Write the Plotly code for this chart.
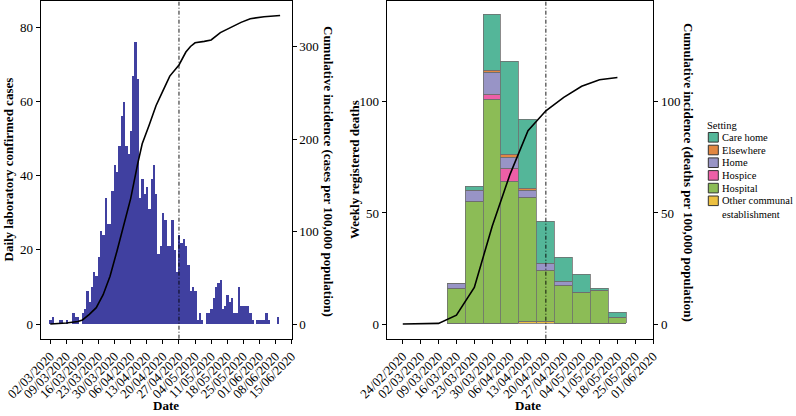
import plotly.graph_objects as go
import pandas as pd

# ---------------- data ----------------
# Left panel: daily laboratory confirmed cases, one value per day from daily_start
daily_start = "2020-03-02"
daily_cases = [1, 2, 0, 0, 1, 1, 0, 1, 0, 0, 3, 2, 2, 0, 3, 4,
               9, 6, 10, 14, 13, 18, 25, 24, 34, 27, 27,
               36, 43, 41, 48, 56, 60, 48, 46, 52, 67, 76,
               66, 34, 39, 35, 37, 31, 39, 43, 35, 19, 21, 30, 28, 21, 21, 28, 20, 14, 24,
               22, 23, 21, 16, 9, 10, 9, 1, 3, 1, 0,
               3, 3, 4, 7, 10, 11, 12,
               4, 5, 8, 6, 7, 3, 3, 10, 5, 5, 5, 5, 3,
               1, 0, 1, 1, 1, 1, 3, 1, 0, 0, 0, 2]

# Left panel: cumulative incidence (cases per 100,000)
cum_case_dates = ["2020-03-02", "2020-03-09", "2020-03-14", "2020-03-16", "2020-03-19",
                  "2020-03-22", "2020-03-25", "2020-03-28", "2020-03-31", "2020-04-03",
                  "2020-04-06", "2020-04-09", "2020-04-11", "2020-04-14", "2020-04-17",
                  "2020-04-20", "2020-04-23", "2020-04-27", "2020-04-30", "2020-05-02",
                  "2020-05-04", "2020-05-08", "2020-05-11", "2020-05-15", "2020-05-19",
                  "2020-05-24", "2020-05-28", "2020-06-03", "2020-06-10"]
cum_case_values = [0.3, 1.4, 3, 4.7, 10.8,
                   18, 32, 52, 79, 106,
                   136, 173, 195, 215, 236,
                   252, 268, 280, 294, 300,
                   304, 305.5, 307, 315, 320,
                   326, 330, 332, 333.5]

left_tick_labels = ["02/03/2020", "09/03/2020", "16/03/2020", "23/03/2020", "30/03/2020",
                    "06/04/2020", "13/04/2020", "20/04/2020", "27/04/2020", "04/05/2020",
                    "11/05/2020", "18/05/2020", "25/05/2020", "01/06/2020", "08/06/2020",
                    "15/06/2020"]
left_marker_date = "2020-04-27"

# Right panel: weekly registered deaths by setting
weeks = ["2020-03-16", "2020-03-23", "2020-03-30", "2020-04-06", "2020-04-13",
         "2020-04-20", "2020-04-27", "2020-05-04", "2020-05-11", "2020-05-18"]
deaths_other_communal = [0, 0, 0, 0, 1, 1, 0, 0, 0, 0]
deaths_hospital = [16, 55, 101, 64, 56, 23, 17, 14, 15, 3]
deaths_hospice = [0, 0, 2, 6, 0, 0, 0, 0, 0, 0]
deaths_home = [2, 5, 10, 5, 3, 3, 2, 0, 0, 0]
deaths_elsewhere = [0, 0, 1, 1, 1, 0, 0, 0, 0, 0]
deaths_care_home = [0, 2, 25, 42, 31, 19, 11, 8, 1, 2]

# Right panel: cumulative incidence (deaths per 100,000)
cum_death_dates = ["2020-02-24", "2020-03-02", "2020-03-09", "2020-03-16", "2020-03-23",
                   "2020-03-30", "2020-04-06", "2020-04-13", "2020-04-20", "2020-04-27",
                   "2020-05-04", "2020-05-11", "2020-05-18"]
cum_death_values = [0, 0, 0.3, 4, 16.5, 44, 67.5, 87, 96, 102, 107, 110, 111]

right_tick_labels = ["24/02/2020", "02/03/2020", "09/03/2020", "16/03/2020", "23/03/2020",
                     "30/03/2020", "06/04/2020", "13/04/2020", "20/04/2020", "27/04/2020",
                     "04/05/2020", "11/05/2020", "18/05/2020", "25/05/2020", "01/06/2020"]
right_marker_date = "2020-04-20"

legend_labels = ["Care home", "Elsewhere", "Home", "Hospice", "Hospital",
                 "Other communal<br>establishment"]

# ---------------- styles ----------------
FONT = "Liberation Serif"
W, H = 796, 416
case_color = "#4040A0"
colors = {
    "Care home": "#54B699",
    "Elsewhere": "#E28741",
    "Home": "#9894C6",
    "Hospice": "#ED5FA7",
    "Hospital": "#8CBC56",
    "Other communal<br>establishment": "#ECC041",
}
bar_edge = "#6E6E6E"

def px_x(p):
    return p / W

def px_y(p):
    return 1 - p / H

y_dom = [px_y(338.7), px_y(0.8)]
left_dom = [px_x(40.7), px_x(291.7)]
right_dom = [px_x(386.7), px_x(653.3)]

fig = go.Figure()

# left panel
day_dates = pd.date_range(daily_start, periods=len(daily_cases), freq="D")
fig.add_trace(go.Bar(x=day_dates, y=daily_cases, width=86400000,
                     marker=dict(color=case_color, line=dict(width=0)),
                     xaxis="x", yaxis="y", showlegend=False))
fig.add_trace(go.Scatter(x=pd.to_datetime(cum_case_dates), y=cum_case_values,
                         mode="lines", line=dict(color="black", width=1.6),
                         xaxis="x", yaxis="y2", showlegend=False))

# right panel stacked bars (bottom to top)
week_dates = pd.to_datetime(weeks)
stack = [
    ("Other communal<br>establishment", deaths_other_communal),
    ("Hospital", deaths_hospital),
    ("Hospice", deaths_hospice),
    ("Home", deaths_home),
    ("Elsewhere", deaths_elsewhere),
    ("Care home", deaths_care_home),
]
for name, vals in stack:
    fig.add_trace(go.Bar(x=week_dates, y=vals, width=7 * 86400000, name=name,
                         marker=dict(color=colors[name], line=dict(color=bar_edge, width=0.8)),
                         xaxis="x2", yaxis="y3", showlegend=False))
fig.add_trace(go.Scatter(x=pd.to_datetime(cum_death_dates), y=cum_death_values,
                         mode="lines", line=dict(color="black", width=1.6),
                         xaxis="x2", yaxis="y4", showlegend=False))

tickfont = dict(family=FONT, size=13, color="black")
common_axis = dict(showgrid=False, zeroline=False, ticks="outside", ticklen=4,
                   tickwidth=1, tickcolor="black", tickfont=tickfont, automargin=False)

left_ticks = pd.to_datetime(left_tick_labels, format="%d/%m/%Y")
right_ticks = pd.to_datetime(right_tick_labels, format="%d/%m/%Y")

fig.update_layout(
    width=W, height=H,
    margin=dict(l=0, r=0, t=0, b=0, autoexpand=False),
    paper_bgcolor="white", plot_bgcolor="white",
    barmode="stack", bargap=0,
    showlegend=False,
    xaxis=dict(domain=left_dom, anchor="y", type="date",
               range=["2020-02-26 20:00", "2020-06-15 01:00"],
               tickmode="array", tickvals=left_ticks, ticktext=left_tick_labels,
               tickangle=-45, showline=True, mirror=True, linecolor="black", linewidth=1,
               **common_axis),
    yaxis=dict(domain=y_dom, anchor="x", range=[-3.96, 87.1],
               tickmode="array", tickvals=[0, 20, 40, 60, 80],
               showline=True, mirror=True, linecolor="black", linewidth=1,
               **common_axis),
    yaxis2=dict(overlaying="y", side="right", anchor="x", range=[-15.5, 349.3],
                tickmode="array", tickvals=[0, 100, 200, 300], showline=False,
                **common_axis),
    xaxis2=dict(domain=right_dom, anchor="y3", type="date",
                range=["2020-02-17 17:00", "2020-06-01 01:00"],
                tickmode="array", tickvals=right_ticks, ticktext=right_tick_labels,
                tickangle=-45, showline=True, mirror=True, linecolor="black", linewidth=1,
                **common_axis),
    yaxis3=dict(domain=y_dom, anchor="x2", range=[-6.6, 145.5],
                tickmode="array", tickvals=[0, 50, 100],
                showline=True, mirror=True, linecolor="black", linewidth=1,
                **common_axis),
    yaxis4=dict(overlaying="y3", side="right", anchor="x2", range=[-6.6, 145.5],
                tickmode="array", tickvals=[0, 50, 100], showline=False,
                **common_axis),
)

# vertical dash-dot markers
for xref, yref, d in [("x", "y domain", left_marker_date), ("x2", "y3 domain", right_marker_date)]:
    fig.add_shape(type="line", xref=xref, yref=yref, x0=d, x1=d, y0=0, y1=1,
                  line=dict(color="black", width=0.9, dash="4px,2px,1px,2px"))

# axis titles
title_font = dict(family=FONT, size=13, color="black")
ann = [
    ("<b>Daily laboratory confirmed cases</b>", 7.5, 170, -90),
    ("<b>Cumulative incidence (cases per 100,000 population)</b>", 329, 171, 90),
    ("<b>Weekly registered deaths</b>", 354, 170, -90),
    ("<b>Cumulative incidence (deaths per 100,000 population)</b>", 689, 172, 90),
    ("<b>Date</b>", 166, 405, 0),
    ("<b>Date</b>", 528, 405, 0),
]
for text, x, y, ang in ann:
    fig.add_annotation(text=text, x=px_x(x), y=px_y(y), xref="paper", yref="paper",
                       showarrow=False, textangle=ang, font=title_font,
                       xanchor="center", yanchor="middle")

# legend (drawn)
leg_font = dict(family=FONT, size=10.5, color="black")
fig.add_annotation(text="Setting", x=px_x(706), y=px_y(125.3), xref="paper", yref="paper",
                   showarrow=False, font=leg_font, xanchor="left", yanchor="middle",
                   borderpad=0)
for i, name in enumerate(legend_labels):
    cy = 137.3 + 12.7 * i
    fig.add_shape(type="rect", xref="paper", yref="paper",
                  x0=px_x(708.3), x1=px_x(718.3), y0=px_y(cy + 4.8), y1=px_y(cy - 4.8),
                  fillcolor=colors[name], line=dict(color="#333333", width=1))
    if "<br>" in name:
        fig.add_annotation(text=name, x=px_x(720.5), y=px_y(cy - 6.3), xref="paper", yref="paper",
                           showarrow=False, font=leg_font, xanchor="left", yanchor="top",
                           align="left", borderpad=0)
    else:
        fig.add_annotation(text=name, x=px_x(720.5), y=px_y(cy), xref="paper", yref="paper",
                           showarrow=False, font=leg_font, xanchor="left", yanchor="middle",
                           borderpad=0)

fig.write_html("out.html", config={"displayModeBar": False},
               post_script="document.body.style.margin='0';document.body.style.overflow='hidden';")
